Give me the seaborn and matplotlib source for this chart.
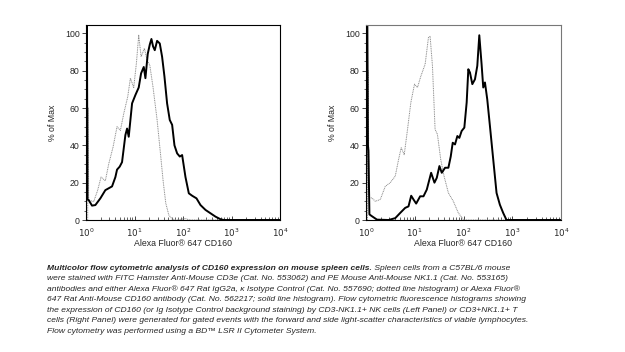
import numpy as np
import pandas as pd
import seaborn as sns
import matplotlib.pyplot as plt
from matplotlib.ticker import FixedLocator, MultipleLocator

# log10 of fluorescence (x) and % of Max (y)
left_solid_lx = [0.0, 0.004, 0.018, 0.03, 0.055, 0.124, 0.193, 0.296, 0.399, 0.468, 0.537, 0.606,
                 0.640, 0.695, 0.743, 0.812, 0.847, 0.881, 0.950, 1.019, 1.087, 1.136, 1.191,
                 1.225, 1.273, 1.315, 1.349, 1.383, 1.418, 1.466, 1.521, 1.569, 1.617, 1.672,
                 1.727, 1.776, 1.824, 1.879, 1.934, 1.982, 2.051, 2.120, 2.189, 2.278, 2.361,
                 2.464, 2.567, 2.670, 2.774, 2.842, 4.0]
left_solid_y = [0, 120, 120, 11, 10.7, 7.7, 8, 11.6, 16, 17, 18, 23,
                27, 28.6, 31, 45.5, 49, 44.6, 62.5, 67, 71, 78.6, 82,
                76, 89, 94, 97, 93, 91, 96, 94.6, 87.5, 77, 62.5,
                53.6, 51, 40, 35.7, 34, 34.8, 23, 14.3, 13, 11.6, 8,
                5.4, 3.6, 1.8, 0.4, 0, 0]

left_dot_lx = [0.0, 0.035, 0.04, 0.045, 0.055, 0.158, 0.241, 0.310, 0.399, 0.468, 0.557, 0.640,
               0.709, 0.778, 0.860, 0.915, 0.984, 1.039, 1.087, 1.136, 1.204, 1.259, 1.315,
               1.383, 1.466, 1.535, 1.590, 1.645, 1.707, 1.776, 1.879, 2.05, 2.1, 2.15, 4.0]
left_dot_y = [0, 0, 60, 60, 10.7, 9.8, 16, 23, 21, 30, 39, 50,
              48, 57, 66, 76, 71, 84, 99, 87.5, 92, 85.7, 83,
              71, 53.6, 35.7, 21, 9, 2.7, 0.5, 0, 0.8, 0.3, 0, 0]

right_solid_lx = [0.0, 0.015, 0.025, 0.04, 0.05, 0.07, 0.123, 0.225, 0.463, 0.600, 0.702, 0.804,
                  0.872, 0.927, 0.974, 1.029, 1.111, 1.179, 1.247, 1.336, 1.404, 1.452, 1.506,
                  1.554, 1.622, 1.690, 1.738, 1.779, 1.826, 1.874, 1.915, 1.962, 2.017, 2.065,
                  2.099, 2.133, 2.181, 2.235, 2.283, 2.324, 2.371, 2.405, 2.440, 2.487, 2.542,
                  2.610, 2.678, 2.746, 2.814, 2.882, 4.0]
right_solid_y = [0, 120, 120, 40, 37, 3, 2, 0.2, 0, 1, 3.8, 6.5,
                 7.3, 13, 11, 8.8, 12.7, 12.7, 16.3, 25.3, 20, 22.6, 28.9,
                 25.3, 28, 28, 34, 41.4, 40.5, 45, 44, 47.7, 49.5, 63,
                 80.8, 79, 72.8, 75.4, 82.6, 99, 83.5, 71, 73.7, 64.7, 50.4,
                 32.4, 14.5, 8.2, 3.8, 0, 0]

right_dot_lx = [0.0, 0.03, 0.035, 0.045, 0.06, 0.123, 0.191, 0.293, 0.395, 0.497, 0.600, 0.668,
                0.722, 0.784, 0.852, 0.920, 0.995, 1.056, 1.124, 1.213, 1.281, 1.315, 1.363,
                1.417, 1.465, 1.533, 1.601, 1.690, 1.792, 1.894, 1.997, 2.065, 4.0]
right_dot_y = [0, 0, 80, 80, 12, 11.8, 10, 11, 18, 20, 23.5, 32.4,
               38.7, 35, 48.6, 63, 72.8, 71, 77, 83.5, 97.8, 98.4, 82.6,
               48.6, 45.9, 32.4, 23.5, 14.5, 10, 3.8, 0.2, 0, 0]

decade_labels = ["$10^0$", "$10^1$", "$10^2$", "$10^3$", "$10^4$"]

caption_bold = "Multicolor flow cytometric analysis of CD160 expression on mouse spleen cells."
caption_rest = " Spleen cells from a C57BL/6 mouse"
caption_lines = [
    "were stained with FITC Hamster Anti-Mouse CD3e (Cat. No. 553062) and PE Mouse Anti-Mouse NK1.1 (Cat. No. 553165)",
    "antibodies and either Alexa Fluor\u00ae 647 Rat IgG2a, \u03ba Isotype Control (Cat. No. 557690; dotted line histogram) or Alexa Fluor\u00ae",
    "647 Rat Anti-Mouse CD160 antibody (Cat. No. 562217; solid line histogram). Flow cytometric fluorescence histograms showing",
    "the expression of CD160 (or Ig Isotype Control background staining) by CD3-NK1.1+ NK cells (Left Panel) or CD3+NK1.1+ T",
    "cells (Right Panel) were generated for gated events with the forward and side light-scatter characteristics of viable lymphocytes.",
    "Flow cytometry was performed using a BD\u2122 LSR II Cytometer System.",
]

sns.set_style("white")
plt.rcParams["font.family"] = ["Liberation Sans", "DejaVu Sans"]

fig = plt.figure(figsize=(6.25, 3.52), dpi=100)
ax1 = fig.add_axes([0.1376, 0.375, 0.3104, 0.554])
ax2 = fig.add_axes([0.5856, 0.375, 0.312, 0.554])

panels = [
    (ax1, left_solid_lx, left_solid_y, left_dot_lx, left_dot_y, "black"),
    (ax2, right_solid_lx, right_solid_y, right_dot_lx, right_dot_y, "#777777"),
]
for ax, slx, sy, dlx, dy, frame in panels:
    dfs = pd.DataFrame({"x": 10 ** np.array(slx), "y": sy})
    dfd = pd.DataFrame({"x": 10 ** np.array(dlx), "y": dy})
    sns.lineplot(data=dfd, x="x", y="y", ax=ax, sort=False, estimator=None,
                 color="#888888", lw=0.7, linestyle=(0, (1, 0.8)))
    sns.lineplot(data=dfs, x="x", y="y", ax=ax, sort=False, estimator=None,
                 color="black", lw=1.4)
    ax.set_xscale("log")
    ax.set_xlim(1, 1e4)
    ax.set_ylim(0, 104.5)
    ax.xaxis.set_major_locator(FixedLocator([1, 10, 100, 1000, 10000]))
    ax.set_xticklabels(decade_labels)
    minors = [m * 10 ** d for d in range(4) for m in range(2, 10)]
    ax.xaxis.set_minor_locator(FixedLocator(minors))
    ax.set_yticks([0, 20, 40, 60, 80, 100])
    ax.yaxis.set_minor_locator(MultipleLocator(5))
    ax.tick_params(axis="x", which="major", direction="in", length=3, width=0.6,
                   labelsize=6.3, pad=5, bottom=True)
    ax.tick_params(axis="x", which="minor", direction="in", length=2, width=0.5, bottom=True)
    ax.tick_params(axis="y", which="major", direction="out", length=3, width=0.6,
                   labelsize=6.3, pad=1.5, left=True)
    ax.tick_params(axis="y", which="minor", direction="out", length=1.5, width=0.5, left=True)
    ax.set_xlabel("Alexa Fluor\u00ae 647 CD160", fontsize=6.3, labelpad=0)
    ax.set_ylabel("% of Max", fontsize=6.3, labelpad=6)
    for name, sp in ax.spines.items():
        sp.set_linewidth(0.8)
        sp.set_color("black" if name in ("left", "bottom") else frame)

cap_size = 6.1
t = fig.text(47 / 625, 1 - 268 / 352, caption_bold, fontsize=cap_size, style="italic",
             weight="bold", va="center", ha="left")
ax1.annotate(caption_rest, xy=(1, 0), xycoords=t, fontsize=cap_size, style="italic",
             va="bottom", ha="left", annotation_clip=False)
for i, line in enumerate(caption_lines):
    fig.text(47 / 625, 1 - (268 + 10.6 * (i + 1)) / 352, line, fontsize=cap_size,
             style="italic", va="center", ha="left")

fig.savefig("out.png", dpi=100)
